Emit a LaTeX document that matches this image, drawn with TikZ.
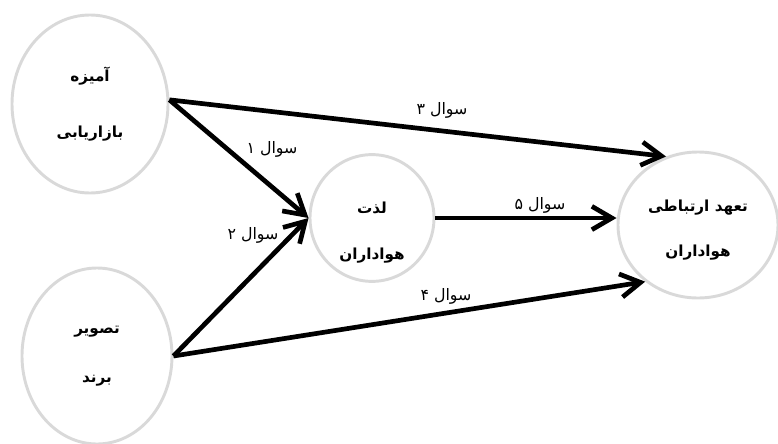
\documentclass[tikz,border=0pt]{standalone}
\usepackage{fontspec}
\usepackage{tikz}
\usetikzlibrary{shapes,arrows.meta,positioning,calc}
\newfontfamily\farsi[Script=Arabic]{DejaVu Sans}
\TeXXeTstate=1
\definecolor{ringgray}{HTML}{D9D9D9}
\tikzset{
  circ/.style={ellipse, draw=ringgray, line width=2.5pt, inner sep=0pt, align=center, font=\farsi\bfseries\fontsize{13}{15}\selectfont},
  arr/.style={line width=4pt, -{Straight Barb[length=6mm,width=7mm]}},
  lbl/.style={font=\farsi\fontsize{13.5}{15}\selectfont, inner sep=1pt}
}

\begin{document}
\begin{tikzpicture}[x=0.03cm,y=-0.03cm]
    \useasboundingbox (0,0) rectangle (778,443);

    % Input circles (Left)
    \node[circ, minimum width=4.68cm, minimum height=5.34cm] (mix) at (90,104)
        {\beginR آمیزه\endR\\[1.15cm]\beginR بازاریابی\endR};
    \node[circ, minimum width=4.5cm, minimum height=5.28cm] (brand) at (97,356)
        {\beginR تصویر\endR\\[0.95cm]\beginR برند\endR};

    % Mediator (Middle)
    \node[circ, minimum width=3.72cm, minimum height=3.78cm] (joy) at (372,218)
        {\rule{0pt}{1.2cm}\beginR لذت\endR\\[0.85cm]\beginR هواداران\endR};

    % Outcome (Right)
    \node[circ, minimum width=4.8cm, minimum height=4.38cm] (bond) at (698,225)
        {\rule{0pt}{0.65cm}\beginR تعهد ارتباطی\endR\\[0.85cm]\beginR هواداران\endR};

    % Paths
    \draw[arr] (mix.3) -- (bond.115);
    \draw[arr] (mix.3) -- (joy.west);
    \draw[arr] (brand.east) -- (joy.west);
    \draw[arr] (brand.east) -- (bond.227);
    \draw[arr] (joy.east) -- (joy.east -| bond.west);

    % Path labels
    \node[lbl] (q1) at (272,149) {\beginR سوال ۱\endR};
    \node[lbl] (q2) at (253,235) {\beginR سوال ۲\endR};
    \node[lbl] (q3) at (442,110) {\beginR سوال ۳\endR};
    \node[lbl] (q4) at (446,296) {\beginR سوال ۴\endR};
    \node[lbl] (q5) at (540,205) {\beginR سوال ۵\endR};
\end{tikzpicture}
\end{document}
